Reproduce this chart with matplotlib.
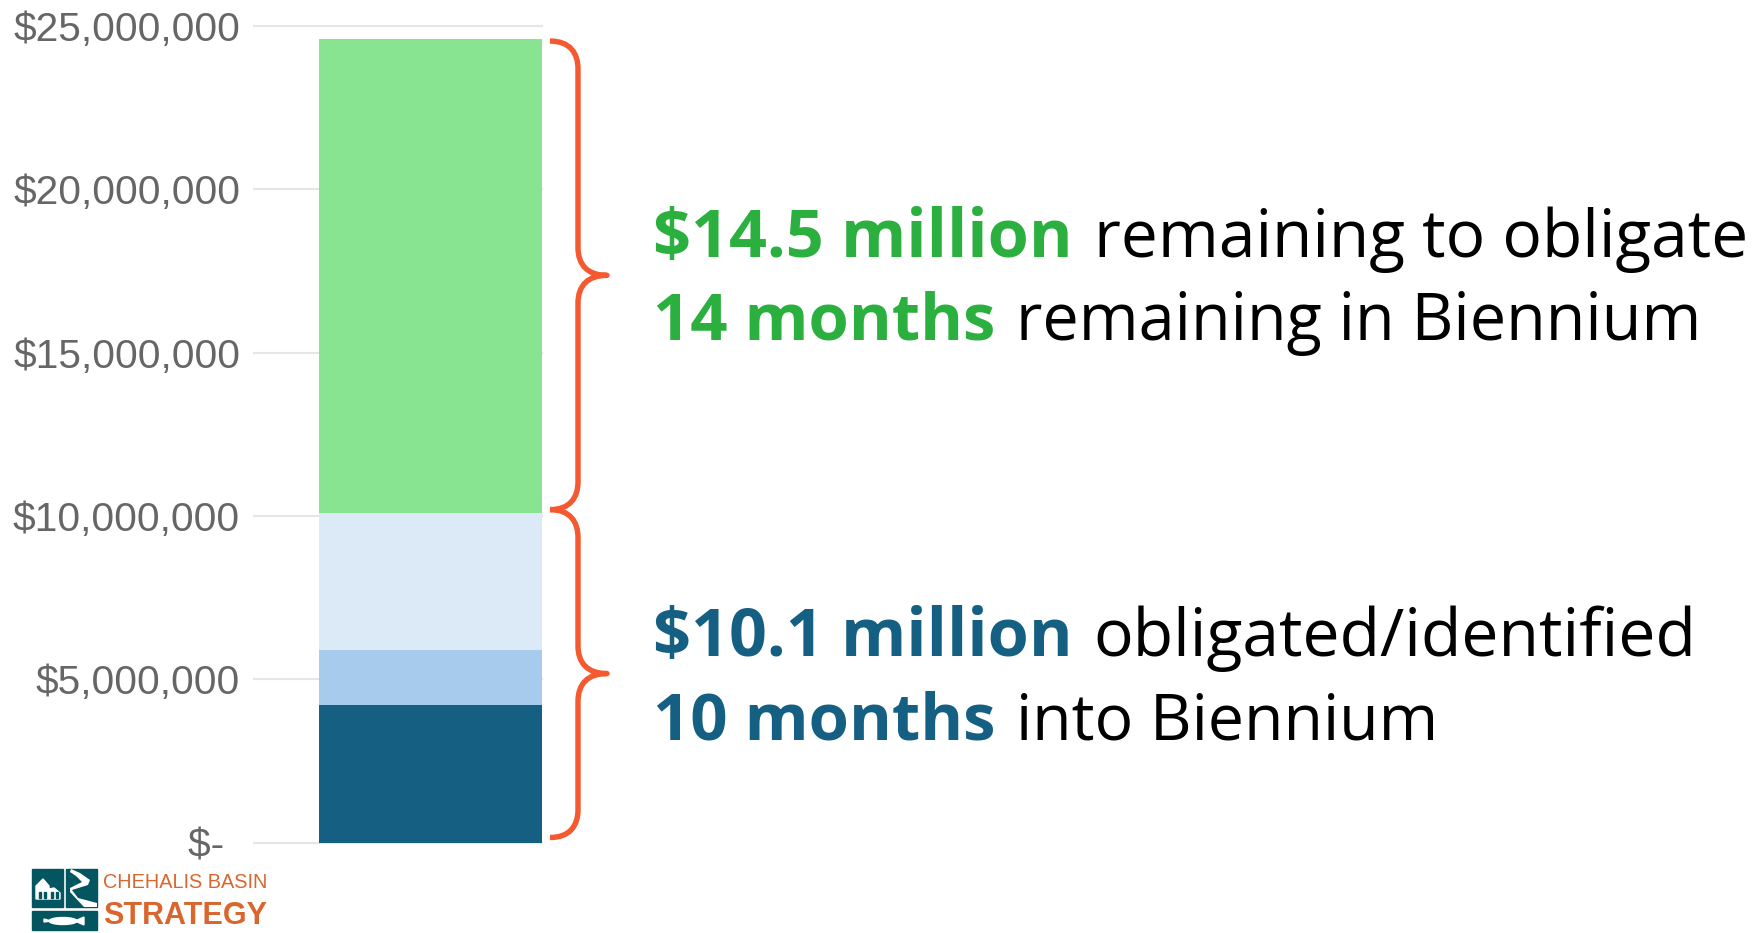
import matplotlib
matplotlib.use('Agg')
import matplotlib.pyplot as plt
from matplotlib.path import Path
from matplotlib.patches import PathPatch, Rectangle, Polygon, Ellipse
from matplotlib.transforms import ScaledTranslation

# values
segments = [4200000, 1700000, 4200000, 14500000]
segment_colors = ['#156082', '#A6CBEC', '#DCE9F6', '#88E491']
tick_values = [0, 5000000, 10000000, 15000000, 20000000, 25000000]
tick_labels = ['$- ', '$5,000,000', '$10,000,000', '$15,000,000', '$20,000,000', '$25,000,000']
note_bold = ['$14.5 million', '14 months', '$10.1 million', '10 months']
note_rest = ['remaining to obligate', 'remaining in Biennium', 'obligated/identified', 'into Biennium']
note_colors = ['#2BB03F', '#2BB03F', '#156082', '#156082']
note_base = [257, 340, 656, 739]
# Open Sans runs a bit differently from the original font, so sizes differ per line
bold_size = [47.9, 47, 47.9, 47]
rest_size = [47.4, 46.6, 47.6, 46.4]
rest_gap = [21, 21, 21, 21]

W, H = 1754, 933
fig = plt.figure(figsize=(W / 100, H / 100), dpi=100, facecolor='white')

# main axes, placed in pixels
ax = fig.add_axes([254 / W, 1 - 842.5 / H, 288 / W, 816.5 / H])
bottom = 0
for val, col in zip(segments, segment_colors):
    ax.bar(0, val, width=1, bottom=bottom, color=col, zorder=3)
    bottom += val
ax.set_xlim(-0.5 - 65 / 223, 0.5)
ax.set_ylim(0, 25000000)
ax.set_xticks([])
ax.set_yticks(tick_values)
ax.set_yticklabels(tick_labels, family='Liberation Sans', fontsize=29.3, color='#666666')
ax.tick_params(axis='y', length=0, pad=10)
ax.grid(axis='y', color='#E6E6E6', linewidth=1.5, zorder=0, clip_on=False)
for gl in ax.get_ygridlines():
    gl.set_clip_on(False)
for s in ax.spines.values():
    s.set_visible(False)

# the "$-" label sits a little further left than the rest
zero_label = ax.get_yticklabels()[0]
zero_label.set_transform(zero_label.get_transform() + ScaledTranslation(-4.5 / 100, 0, fig.dpi_scale_trans))

# overlay in pixel coordinates for braces, notes and logo
ov = fig.add_axes([0, 0, 1, 1], facecolor='none')
ov.set_xlim(0, W)
ov.set_ylim(H, 0)
ov.axis('off')


def to_px(v):
    return H - ax.transData.transform((0, v))[1]


def brace(y0, y1):
    # opening at x=550, spine at x=578, tip at x=607
    mid = (y0 + y1) / 2
    verts = [(550, y0), (570, y0), (578, y0 + 12), (578, y0 + 28),
             (578, mid - 28), (578, mid - 10), (588, mid), (607, mid),
             (588, mid), (578, mid + 10), (578, mid + 28),
             (578, y1 - 28), (578, y1 - 12), (570, y1), (550, y1)]
    codes = [Path.MOVETO, Path.CURVE4, Path.CURVE4, Path.CURVE4,
             Path.LINETO, Path.CURVE4, Path.CURVE4, Path.CURVE4,
             Path.CURVE4, Path.CURVE4, Path.CURVE4,
             Path.LINETO, Path.CURVE4, Path.CURVE4, Path.CURVE4]
    ov.add_patch(PathPatch(Path(verts, codes), fill=False, edgecolor='#F4592F', linewidth=3.9, capstyle='butt', joinstyle='round'))


total = sum(segments)
obligated = sum(segments[:3])
brace(to_px(total) + 2, to_px(obligated) - 3)
brace(to_px(obligated) - 3, to_px(0) - 5)

# notes, bold part then regular part on the same baseline
renderer = fig.canvas.get_renderer()
for i in range(len(note_bold)):
    t = ov.text(653, note_base[i], note_bold[i], family='Open Sans', fontweight='bold', fontsize=bold_size[i], color=note_colors[i], va='baseline', ha='left')
    end = t.get_window_extent(renderer).x1
    ov.text(end + rest_gap[i], note_base[i], note_rest[i], family='Open Sans', fontsize=rest_size[i], color='black', va='baseline', ha='left')

# logo
teal = '#03565F'
ov.add_patch(Rectangle((32, 869), 31, 38, color=teal))
ov.add_patch(Rectangle((66, 869), 31, 38, color=teal))
ov.add_patch(Rectangle((32, 911), 65, 19, color=teal))
ov.add_patch(Polygon([(36, 899), (36, 886), (43, 879), (49, 886), (49, 889), (54, 888), (60, 893), (60, 899)], color='white'))
for x in [39, 44, 51, 56]:
    ov.add_patch(Rectangle((x, 892), 2, 6, color=teal))
ov.add_patch(PathPatch(Path([(71, 869), (80, 873), (90, 880), (88, 885), (72, 890), (78, 898), (97, 903), (97, 907), (84, 907), (70, 892), (70, 888), (82, 882), (76, 876), (70, 872)]), facecolor='white', edgecolor='none'))
ov.add_patch(Ellipse((63, 921), 28, 7, color='white'))
ov.add_patch(Polygon([(75, 921), (84, 917), (84, 925)], color='white'))
ov.add_patch(Polygon([(44, 919), (51, 921), (44, 922)], color='white'))

# no narrow face installed, so sized to fit the logo's width
orange = '#D9662E'
ov.text(103, 888, 'CHEHALIS BASIN', family='Liberation Sans', fontsize=14.3, color=orange, va='baseline', ha='left')
ov.text(103, 924, 'STRATEGY', family='Liberation Sans', fontweight='bold', fontsize=22, color=orange, va='baseline', ha='left')

fig.savefig('out.png', dpi=100)
